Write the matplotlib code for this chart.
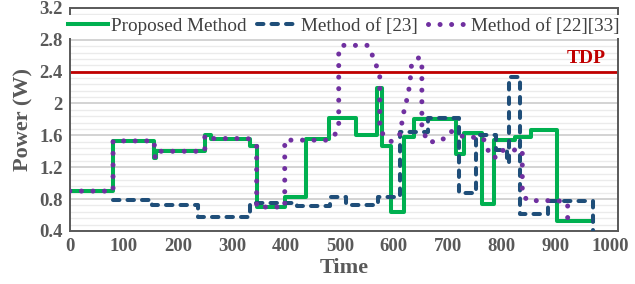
import matplotlib
matplotlib.use("Agg")
import matplotlib.pyplot as plt
from matplotlib.ticker import MultipleLocator

plt.rcParams['font.family'] = ['Liberation Serif', 'DejaVu Serif']

### data ###
# Proposed method (step changes: time, power)
prop_t = [0, 80, 156, 160, 250, 262, 333, 346, 398, 437, 480, 530, 569, 579, 595, 618, 637, 716, 730, 764, 785, 824, 855, 902, 969]
prop_p = [0.9, 1.53, 1.32, 1.40, 1.60, 1.56, 1.47, 0.70, 0.83, 1.55, 1.82, 1.61, 2.20, 1.46, 0.64, 1.58, 1.81, 1.37, 1.63, 0.74, 1.54, 1.58, 1.67, 0.53, 0.53]

# Method of [23] (step changes)
m23_t = [80, 152, 238, 333, 420, 481, 512, 570, 611, 663, 720, 752, 790, 810, 813, 833, 885, 969]
m23_p = [0.79, 0.72, 0.58, 0.75, 0.71, 0.83, 0.73, 0.83, 1.64, 1.82, 0.88, 1.60, 1.42, 1.25, 2.33, 0.61, 0.78, 0.40]

# Method of [22][33] (vertices)
m2233_t = [0, 80, 80, 156, 158, 162, 250, 250, 262, 330, 346, 346, 398, 398, 476, 491, 498, 498,
           505, 552, 560, 568, 574, 574, 583, 596, 612, 617, 626, 630, 633, 640, 648, 652, 652,
           662, 684, 697, 706, 716, 730, 765, 774, 776, 790, 800, 838, 838, 848, 904, 922, 922]
m2233_p = [0.9, 0.9, 1.53, 1.53, 1.32, 1.40, 1.40, 1.60, 1.56, 1.56, 1.47, 0.70, 0.70, 1.54, 1.54, 1.61, 1.72, 2.68,
           2.73, 2.73, 2.61, 2.47, 2.35, 1.67, 1.59, 1.52, 1.62, 1.85, 2.10, 2.26, 2.50, 2.55, 2.58, 2.50, 1.71,
           1.52, 1.52, 1.58, 1.65, 1.62, 1.58, 1.57, 1.45, 1.35, 1.32, 1.41, 1.42, 0.86, 0.78, 0.78, 0.75, 0.47]

tdp = 2.4
yticks = [0.4, 0.8, 1.2, 1.6, 2.0, 2.4, 2.8, 3.2]
ylabels = ['0.4', '0.8', '1.2', '1.6', '2', '2.4', '2.8', '3.2']
xticks = list(range(0, 1001, 100))

gray = '#595959'

fig = plt.figure(figsize=(6.35, 2.84), dpi=100)
ax = fig.add_axes([0.110, 0.187, 0.863, 0.785])

ax.step(prop_t, prop_p, where='post', color='#00B050', lw=2.9, zorder=3,
        label='Proposed Method')
ax.step(m23_t, m23_p, where='post', color='#1F4E79', lw=2.9, zorder=4,
        dashes=(1.6, 2.0), dash_capstyle='round', label='Method of [23]')
ax.plot(m2233_t, m2233_p, color='#7030A0', lw=3.6, zorder=5,
        dashes=(0.01, 2.3), dash_capstyle='round', label='Method of [22][33]')

ax.axhline(tdp, color='#C00000', lw=2, zorder=2)
ax.text(957, 2.57, 'TDP', color='#C00000', fontsize=14, fontweight='bold',
        ha='center', va='center')

ax.set_xlim(0, 1015)
ax.set_ylim(0.4, 3.2)
ax.set_xticks(xticks)
ax.set_yticks(yticks)
ax.set_yticklabels(ylabels)
ax.yaxis.set_minor_locator(MultipleLocator(0.08))
ax.grid(axis='y', which='major', color='#D0D0D0', lw=1.3, zorder=0)
ax.grid(axis='y', which='minor', color='#EBEBEB', lw=1.0, zorder=0)
ax.set_axisbelow(True)

ax.tick_params(which='both', length=0, labelsize=13.5, labelcolor=gray, pad=5)
for lbl in ax.get_xticklabels() + ax.get_yticklabels():
    lbl.set_fontweight('bold')
for sp in ax.spines.values():
    sp.set_color(gray)
    sp.set_linewidth(1.4)

ax.set_xlabel('Time', fontsize=16, fontweight='bold', color=gray, labelpad=2)
ax.set_ylabel('Power (W)', fontsize=16, fontweight='bold', color=gray, labelpad=4)

leg = ax.legend(loc='upper center', bbox_to_anchor=(0.5, 1.0), ncol=3, fontsize=13.8,
                frameon=True, facecolor='white', edgecolor='none', framealpha=1,
                handlelength=2.1, handletextpad=0.15, columnspacing=0.55,
                borderpad=0.15, borderaxespad=0.35, fancybox=False)
leg.set_zorder(6)
for t in leg.get_texts():
    t.set_color('#404040')

fig.savefig('out.png', dpi=100)
